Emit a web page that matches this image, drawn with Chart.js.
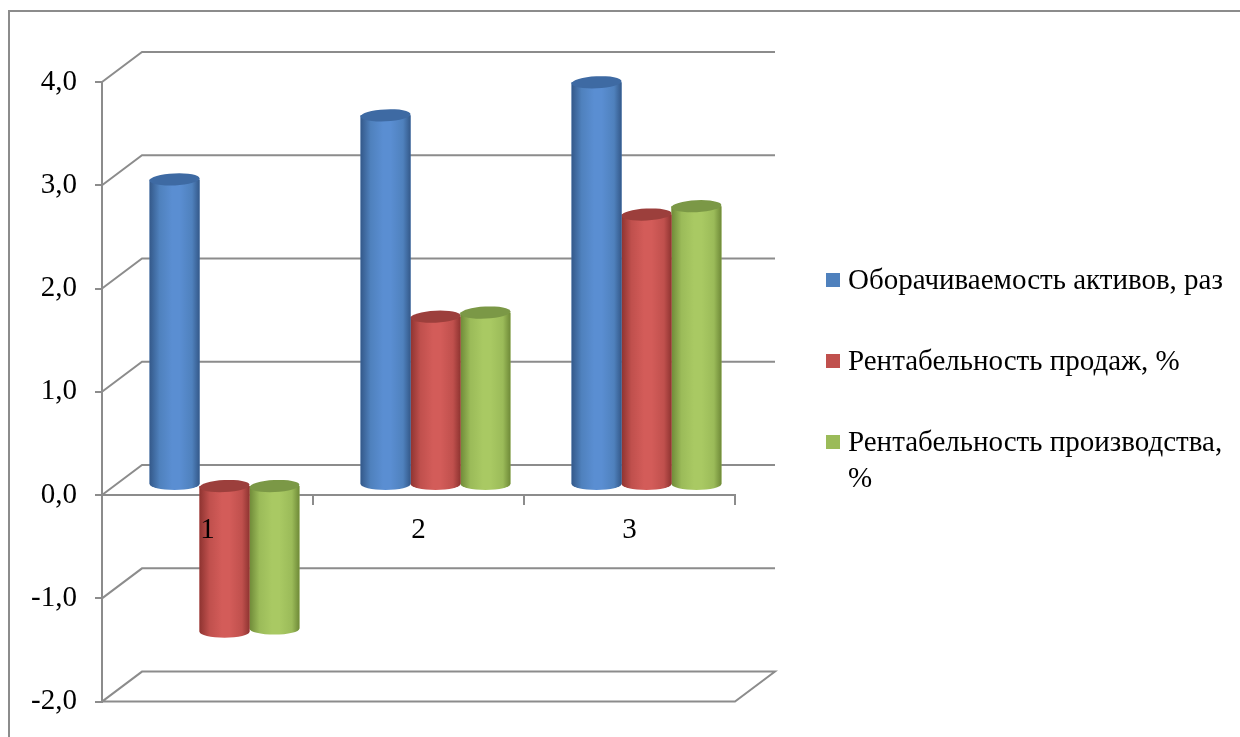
<!DOCTYPE html>
<html lang="ru">
<head>
<meta charset="utf-8">
<script src="https://cdn.jsdelivr.net/npm/chart.js@4.4.1/dist/chart.umd.min.js"></script>
<style>
  html, body { margin: 0; padding: 0; background: #fff; overflow: hidden; }
  body { width: 1240px; height: 737px; position: relative; }
  .frame {
    position: absolute; left: 8px; top: 10px; width: 1300px; height: 800px;
    border-left: 2px solid #8c8c8c; border-top: 2px solid #8c8c8c;
  }
  #chart { position: absolute; left: 0; top: 0; }
  .legend {
    position: absolute; left: 826px; top: 261px; width: 410px;
    font-family: "Liberation Serif", "Times New Roman", serif; font-size: 29px; color: #000;
  }
  .legend-item { position: relative; padding-left: 22px; line-height: 36px; margin-bottom: 45px; }
  .legend-box { position: absolute; left: 0; top: 12px; width: 14px; height: 14px; }
</style>
</head>
<body>
<div class="frame"></div>
<canvas id="chart" width="1240" height="737"></canvas>
<div class="legend" id="legend"></div>
<script>
const categories = ["1", "2", "3"];

const seriesNames = [
  "Оборачиваемость активов, раз",
  "Рентабельность продаж, %",
  "Рентабельность производства, %",
];

const turnoverValues = [2.96, 3.58, 3.9];
const salesMarginValues = [-1.42, 1.63, 2.62];
const productionMarginValues = [-1.39, 1.67, 2.7];

const yTicks = [-2, -1, 0, 1, 2, 3, 4];

// base colour, cylinder edge, cylinder middle, top cap
const palettes = [
  { base: "#4f81bd", edge: "#34598a", mid: "#5a8ed2", cap: "#3e6aa3" },
  { base: "#c0504d", edge: "#8f3431", mid: "#d35c59", cap: "#9c3f3c" },
  { base: "#9bbb59", edge: "#6f8a38", mid: "#a9c963", cap: "#7b9846" },
];

const GRID = "#8c8c8c";
const DEPTH_X = 40;
const DEPTH_Y = 30;
const BAR_SHIFT_X = 17;
const BAR_SHIFT_Y = -10;

const legend = document.getElementById("legend");
seriesNames.forEach((name, i) => {
  const item = document.createElement("div");
  item.className = "legend-item";
  item.innerHTML = `<span class="legend-box" style="background:${palettes[i].base}"></span>${name}`;
  legend.appendChild(item);
});

// back wall lines of the 3d box, then cylinders drawn slightly behind the front plane
const wallPlugin = {
  id: "wall",
  beforeDatasetsDraw(chart) {
    const { ctx, chartArea } = chart;
    const yScale = chart.scales.y;
    ctx.save();
    ctx.strokeStyle = GRID;
    ctx.lineWidth = 2;
    yTicks.forEach((v) => {
      const y = yScale.getPixelForValue(v);
      ctx.beginPath();
      ctx.moveTo(chartArea.left, y);
      ctx.lineTo(chartArea.left + DEPTH_X, y - DEPTH_Y);
      ctx.lineTo(chartArea.right + DEPTH_X, y - DEPTH_Y);
      if (v === yTicks[0]) {
        ctx.lineTo(chartArea.right, y);
        ctx.lineTo(chartArea.left, y);
      }
      ctx.stroke();
    });
    ctx.restore();

    ctx.save();
    ctx.translate(BAR_SHIFT_X, BAR_SHIFT_Y);
  },
  afterDatasetDraw(chart, args) {
    const { ctx } = chart;
    const pal = palettes[args.index];
    const meta = chart.getDatasetMeta(args.index);
    meta.data.forEach((bar) => {
      const { x, y, base, width } = bar.getProps(["x", "y", "base", "width"], true);
      const rx = width / 2;
      const ry = 6;
      const top = Math.min(y, base);
      const bottom = Math.max(y, base);
      const left = x - rx;
      const right = x + rx;

      const grad = ctx.createLinearGradient(left, 0, right, 0);
      grad.addColorStop(0, pal.edge);
      grad.addColorStop(0.2, pal.base);
      grad.addColorStop(0.45, pal.mid);
      grad.addColorStop(0.6, pal.mid);
      grad.addColorStop(0.85, pal.base);
      grad.addColorStop(1, pal.edge);

      ctx.beginPath();
      ctx.moveTo(left, top);
      ctx.lineTo(left, bottom);
      ctx.ellipse(x, bottom, rx, ry, 0, Math.PI, 0, true);
      ctx.lineTo(right, top);
      ctx.closePath();
      ctx.fillStyle = grad;
      ctx.fill();

      ctx.beginPath();
      ctx.ellipse(x, top, rx, ry, -0.05, 0, Math.PI * 2);
      ctx.fillStyle = pal.cap;
      ctx.fill();
    });
  },
  afterDatasetsDraw(chart) {
    chart.ctx.restore();
  },
};

const serifFont = { family: "'Liberation Serif', 'Times New Roman', serif", size: 29 };

new Chart(document.getElementById("chart"), {
  type: "bar",
  data: {
    labels: categories,
    datasets: [turnoverValues, salesMarginValues, productionMarginValues].map((data, i) => ({
      label: seriesNames[i],
      data,
      backgroundColor: palettes[i].base,
      borderWidth: 0,
      categoryPercentage: 0.71,
      barPercentage: 1,
    })),
  },
  options: {
    responsive: false,
    animation: false,
    layout: { padding: { left: 0, right: 505, top: 82, bottom: 35 } },
    plugins: {
      legend: { display: false },
      tooltip: { enabled: false },
    },
    scales: {
      x: {
        position: { y: 0 },
        offset: true,
        grid: { drawOnChartArea: false, tickLength: 9, color: GRID, lineWidth: 2, offset: true },
        border: { display: true, color: GRID, width: 2 },
        // labels are drawn above the cylinders
        ticks: { color: "#000", font: serifFont, padding: 9, z: 1 },
      },
      y: {
        min: -2,
        max: 4,
        afterFit: (scale) => {
          scale.width = 102;
        },
        grid: { drawOnChartArea: false, tickLength: 7, color: GRID, lineWidth: 2 },
        border: { display: true, color: GRID, width: 2 },
        ticks: {
          stepSize: 1,
          color: "#000",
          font: serifFont,
          padding: 18,
          callback: (v) => v.toFixed(1).replace(".", ","),
        },
      },
    },
  },
  plugins: [wallPlugin],
});
</script>
</body>
</html>
